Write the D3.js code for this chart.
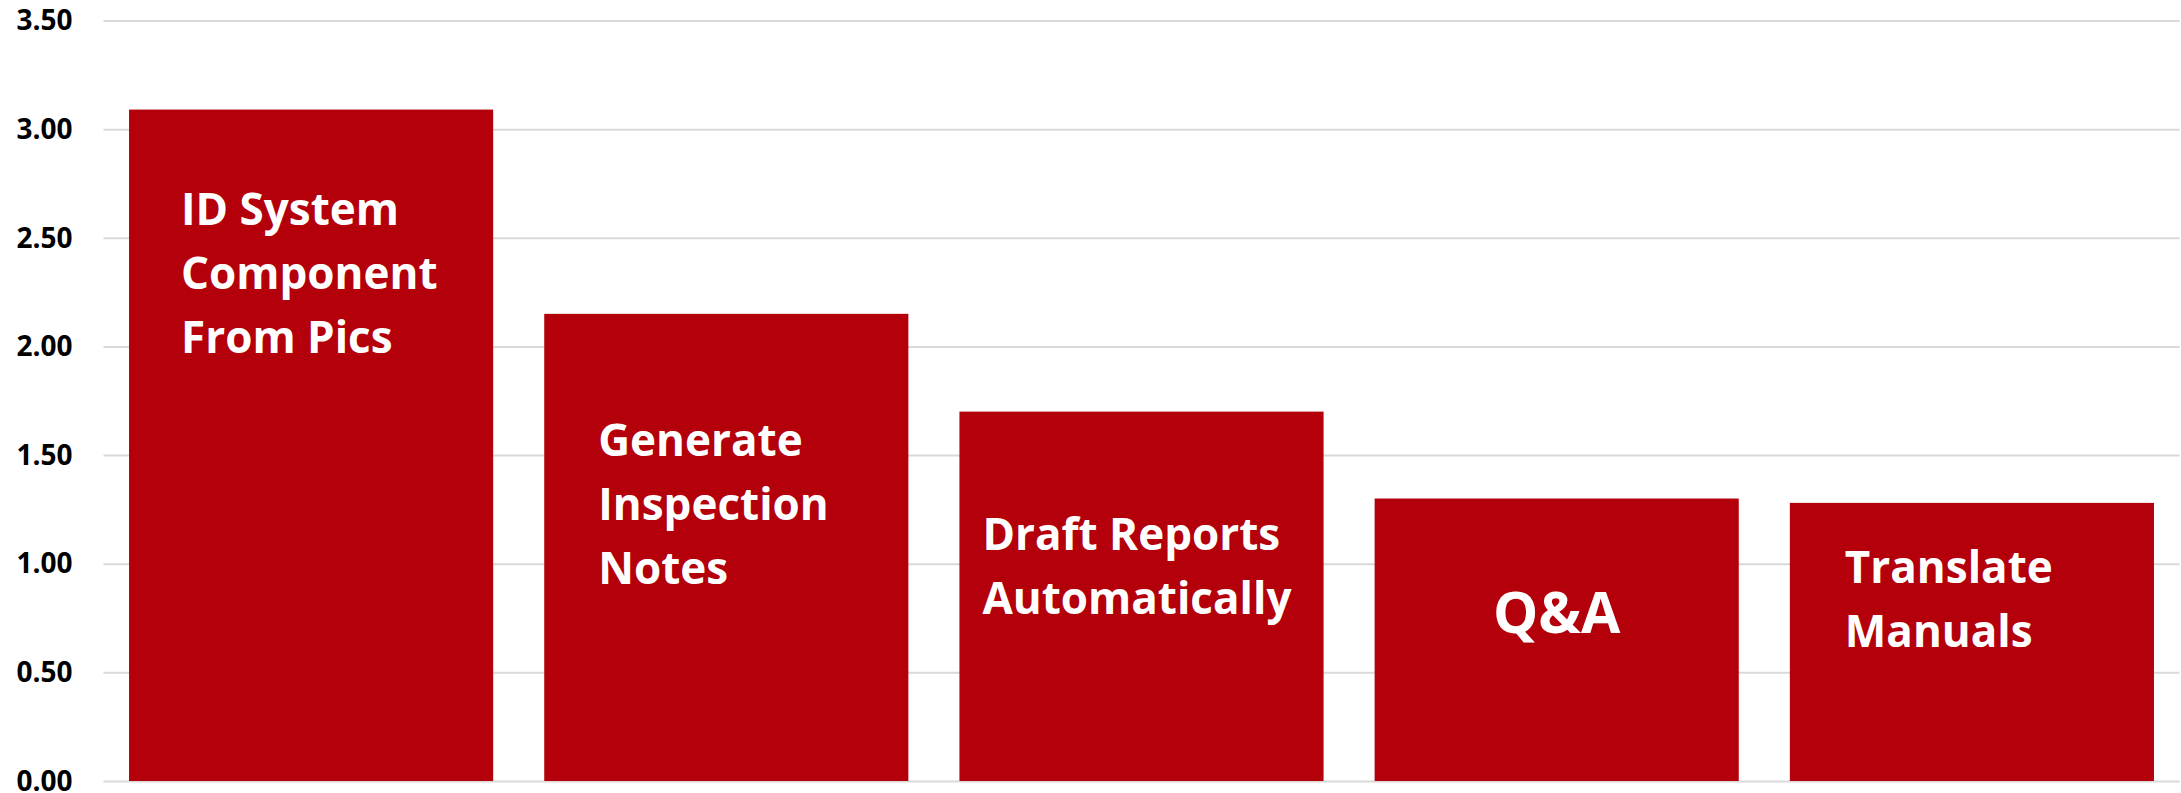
<!DOCTYPE html>
<html>
<head>
<meta charset="utf-8">
<script src="https://cdn.jsdelivr.net/npm/d3@7"></script>
<style>
  html, body { margin: 0; padding: 0; background: #ffffff; }
  svg { display: block; }
</style>
</head>
<body>
<svg id="chart" width="2181" height="793"></svg>
<script>
// ---- data ----
const categories = ["ID System Component From Pics", "Generate Inspection Notes", "Draft Reports Automatically", "Q&A", "Translate Manuals"];
const values = [3.09, 2.15, 1.70, 1.30, 1.28];
const labelLines = [
  ["ID System", "Component", "From Pics"],
  ["Generate", "Inspection", "Notes"],
  ["Draft Reports", "Automatically"],
  ["Q&A"],
  ["Translate", "Manuals"]
];
const yTicks = [0, 0.5, 1.0, 1.5, 2.0, 2.5, 3.0, 3.5];

// ---- layout ----
const W = 2181, H = 793;
const plotLeft = 103.5, plotRight = 2179.5, plotTop = 20.5, plotBottom = 781;
const barColor = "#b3000a";
const gridColor = "#d9d9d9";
const font = "'Open Sans', 'DejaVu Sans', sans-serif";

// label placement (pixel offsets relative to bar left / bar top), per bar
const labelDx = [52, 54, 23, 0, 55];
const labelDy = [115, 142, 138, 134, 80];
const labelSize = [44, 44, 44, 57, 44];
const lineGap = 64;

const svg = d3.select("#chart");

const x = d3.scaleBand()
  .domain(categories)
  .range([plotLeft, plotRight])
  .paddingInner(0.123)
  .paddingOuter(0.0615);

const y = d3.scaleLinear()
  .domain([0, 3.5])
  .range([plotBottom, plotTop]);

// gridlines
const yAxis = d3.axisLeft(y)
  .tickValues(yTicks)
  .tickSize(-(plotRight - plotLeft))
  .tickFormat(d3.format(".2f"))
  .tickPadding(31);

const gAxis = svg.append("g")
  .attr("transform", `translate(${plotLeft},0)`)
  .call(yAxis);
gAxis.select(".domain").remove();
gAxis.selectAll(".tick line")
  .attr("stroke", gridColor)
  .attr("stroke-width", 2);
gAxis.selectAll(".tick text")
  .attr("fill", "#000000")
  .attr("font-family", font)
  .attr("font-weight", 700)
  .attr("font-size", 28)
  .attr("dy", "0.33em");

// bars
svg.append("g")
  .selectAll("rect")
  .data(categories)
  .join("rect")
  .attr("x", d => x(d))
  .attr("y", (d, i) => y(values[i]))
  .attr("width", x.bandwidth())
  .attr("height", (d, i) => y(0) - y(values[i]))
  .attr("fill", barColor);

// bar labels
const labels = svg.append("g")
  .selectAll("text")
  .data(categories)
  .join("text")
  .attr("fill", "#ffffff")
  .attr("font-family", font)
  .attr("font-weight", 700)
  .attr("font-size", (d, i) => labelSize[i])
  .attr("text-anchor", (d, i) => labelLines[i].length === 1 ? "middle" : "start")
  .attr("x", (d, i) => labelLines[i].length === 1 ? x(d) + x.bandwidth() / 2 : x(d) + labelDx[i])
  .attr("y", (d, i) => y(values[i]) + labelDy[i]);

labels.each(function(d, i) {
  const t = d3.select(this);
  const x0 = t.attr("x");
  labelLines[i].forEach((line, j) => {
    t.append("tspan")
      .attr("x", x0)
      .attr("dy", j === 0 ? 0 : lineGap)
      .text(line);
  });
});
</script>
</body>
</html>
